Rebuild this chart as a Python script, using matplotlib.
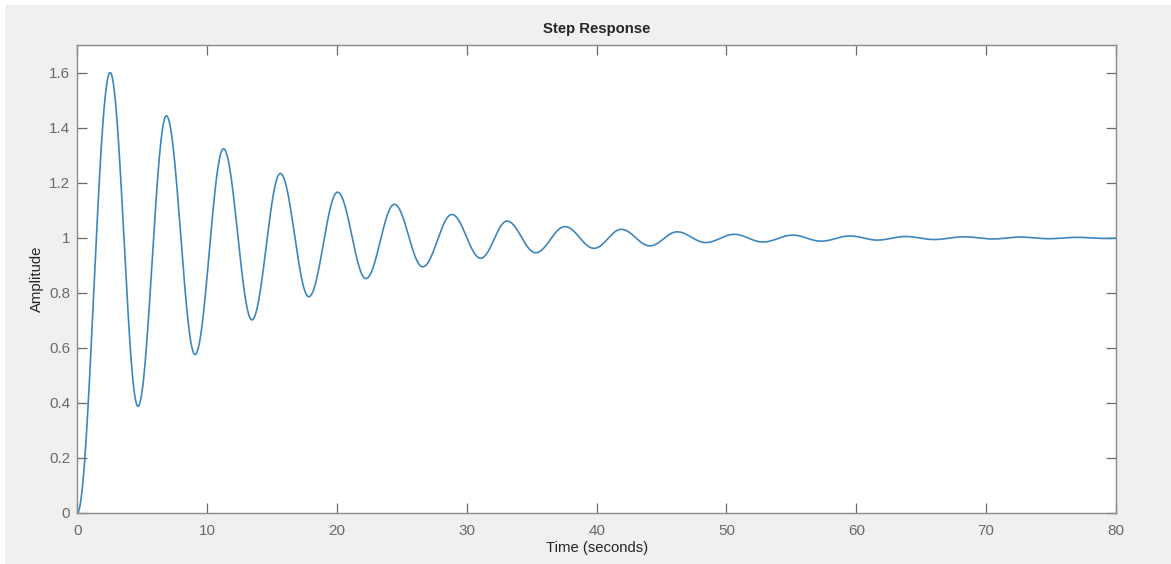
import numpy as np
import matplotlib
matplotlib.use("Agg")
import matplotlib.pyplot as plt
from matplotlib.patches import Rectangle

# extrema of the step response (time s, amplitude)
peak_times = [0.0, 2.53, 4.67, 6.86, 9.07, 11.26, 13.45, 15.64, 17.83, 20.05,
              22.23, 24.42, 26.6, 28.85, 31.07, 33.1, 35.3, 37.56, 39.8, 41.9,
              44.1, 46.2, 48.4, 50.6, 52.8, 55.1, 57.3, 59.5, 61.6, 63.8,
              66.0, 68.3, 70.5, 72.6, 74.8, 77.0, 79.2, 80.0]
peak_values = [0.0, 1.601, 0.388, 1.444, 0.576, 1.324, 0.702, 1.234, 0.786, 1.166,
               0.852, 1.122, 0.895, 1.085, 0.926, 1.061, 0.946, 1.041, 0.962, 1.031,
               0.971, 1.022, 0.983, 1.013, 0.985, 1.010, 0.988, 1.007, 0.992, 1.005,
               0.994, 1.004, 0.996, 1.003, 0.997, 1.002, 0.998, 0.999]

x_ticks = [0, 10, 20, 30, 40, 50, 60, 70, 80]
y_ticks = [0, 0.2, 0.4, 0.6, 0.8, 1.0, 1.2, 1.4, 1.6]
y_tick_labels = ["0", "0.2", "0.4", "0.6", "0.8", "1", "1.2", "1.4", "1.6"]

# smooth half-cosine joins between consecutive extrema
t_curve, y_curve = [], []
for i in range(len(peak_times) - 1):
    s = np.linspace(0, 1, 60, endpoint=False)
    t_curve.append(peak_times[i] + s * (peak_times[i + 1] - peak_times[i]))
    y_curve.append(peak_values[i] + (peak_values[i + 1] - peak_values[i]) * (1 - np.cos(np.pi * s)) / 2)
t_curve = np.concatenate(t_curve + [[peak_times[-1]]])
y_curve = np.concatenate(y_curve + [[peak_values[-1]]])

plt.rcParams['font.family'] = ['Liberation Sans', 'DejaVu Sans']

W, H = 1171, 564
fig = plt.figure(figsize=(W / 100, H / 100), dpi=100, facecolor='white')
fig.patches.append(Rectangle((5 / W, 0), 1, (H - 5) / H, transform=fig.transFigure,
                             facecolor='#f0f0f0', edgecolor='none', zorder=-10))

ax = fig.add_axes([77.3 / W, (H - 513) / H, (1116 - 77.3) / W, (513 - 45.3) / H])
ax.set_facecolor('white')
ax.plot(t_curve, y_curve, color='#3d87be', linewidth=1.2)

ax.set_xlim(0, 80)
ax.set_ylim(0, 1.7)
ax.set_xticks(x_ticks)
ax.set_yticks(y_ticks)
ax.set_yticklabels(y_tick_labels)
ax.tick_params(direction='in', length=7, width=0.9, top=True, right=True,
               color='#6a6a6a', labelcolor='#6a6a6a', labelsize=11)
ax.tick_params(axis='x', pad=8)
ax.tick_params(axis='y', pad=5)
for sp in ax.spines.values():
    sp.set_color('#8a8a8a')
    sp.set_linewidth(1.0)

ax.set_title('Step Response', fontsize=10.7, fontweight='bold', color='#262626', pad=9)
ax.set_xlabel('Time (seconds)', fontsize=10.7, color='#262626', labelpad=2)
ax.set_ylabel('Amplitude', fontsize=10.7, color='#262626', labelpad=4)

fig.savefig('out.png', dpi=100, facecolor=fig.get_facecolor())
